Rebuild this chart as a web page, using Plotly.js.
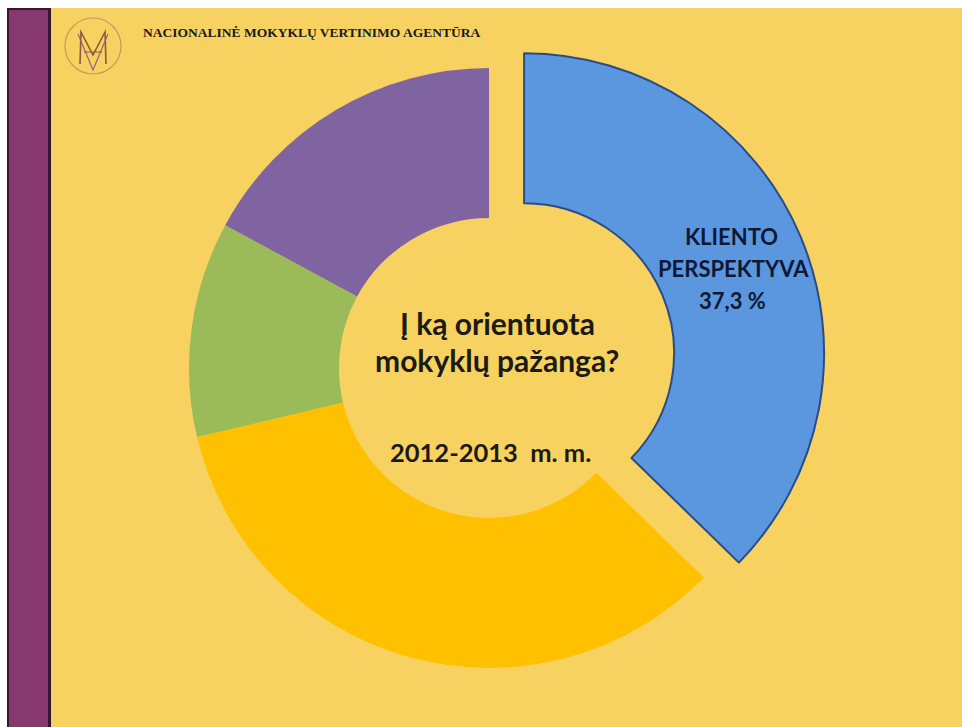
<!DOCTYPE html>
<html>
<head>
<meta charset="utf-8">
<script src="https://cdn.plot.ly/plotly-3.0.1.min.js"></script>
<style>
  html, body { margin: 0; padding: 0; background: #ffffff; }
  #chart { width: 962px; height: 727px; }
</style>
</head>
<body>
<div id="chart"></div>
<script>
// ---- data ----
const categories = ["Kliento perspektyva", "Kita sritis A", "Kita sritis B", "Kita sritis C"];
const values = [37.3, 34.0, 11.6, 17.1];
const sliceColors = ["#5B97DF", "#FFC000", "#9BBB59", "#8064A2"];
const pulls = [0.127, 0, 0, 0];
const header = "NACIONALINĖ MOKYKLŲ VERTINIMO AGENTŪRA";
const centerTitle = ["Į ką orientuota", "mokyklų pažanga?"];
const schoolYear = "2012-2013  m. m.";

// ---- helpers (pixel -> paper) ----
const W = 962, H = 727;
const px = x => x / W;
const py = y => 1 - y / H;

const bg = "#F7D261";
const darkText = "#1C1A14";
const labelNavy = "#0E1936";

// pie geometry: center (489,368), outer radius 300 incl. pull space
const cx = 489, cy = 368, R = 300;
const half = R * (1 + Math.max(...pulls));

const trace = {
  type: "pie",
  labels: categories,
  values: values,
  hole: 0.5,
  sort: false,
  direction: "clockwise",
  rotation: 0,
  pull: pulls,
  textinfo: "none",
  hoverinfo: "label+percent",
  showlegend: false,
  marker: {
    colors: sliceColors,
    line: { color: ["#2A4C86", bg, bg, bg], width: [2, 0, 0, 0] }
  },
  domain: {
    x: [px(cx - half), px(cx + half)],
    y: [py(cy + half), py(cy - half)]
  }
};

// label for the pulled slice, built from data
const firstWords = categories[0].toUpperCase().split(" ");
const pctText = values[0].toFixed(1).replace(".", ",") + " %";

const annotations = [
  { text: "<b>" + header + "</b>", x: px(311), y: py(32), font: { family: "Liberation Serif, Times New Roman, serif", size: 13.5, color: "#1a1a1a" } },
  { text: "<b>" + centerTitle[0] + "</b>", x: px(497), y: py(323), font: { family: "Lato, sans-serif", size: 30, color: darkText } },
  { text: "<b>" + centerTitle[1] + "</b>", x: px(497), y: py(360), font: { family: "Lato, sans-serif", size: 30, color: darkText } },
  { text: "<b>" + schoolYear + "</b>", x: px(490), y: py(452), font: { family: "Lato, sans-serif", size: 25.5, color: darkText } },
  { text: "<b>" + firstWords[0] + "</b>", x: px(731), y: py(236), font: { family: "Lato, sans-serif", size: 22, color: labelNavy } },
  { text: "<b>" + firstWords[1] + "</b>", x: px(733), y: py(268), font: { family: "Lato, sans-serif", size: 22, color: labelNavy } },
  { text: "<b>" + pctText + "</b>", x: px(732), y: py(300), font: { family: "Lato, sans-serif", size: 22, color: labelNavy } }
].map(a => Object.assign({ xref: "paper", yref: "paper", xanchor: "center", yanchor: "middle", showarrow: false }, a));

const shapes = [
  // white top strip
  { type: "rect", x0: 0, x1: 1, y0: py(8), y1: 1, fillcolor: "#ffffff", line: { width: 0 } },
  // white left strip
  { type: "rect", x0: 0, x1: px(7), y0: 0, y1: 1, fillcolor: "#ffffff", line: { width: 0 } },
  // purple side bar
  { type: "rect", x0: px(7), x1: px(51), y0: 0, y1: py(8), fillcolor: "#3A1430", line: { width: 0 } },
  { type: "rect", x0: px(9), x1: px(48), y0: 0, y1: py(10), fillcolor: "#87386C", line: { width: 0 } },
  // logo circle
  { type: "circle", x0: px(65), x1: px(121), y0: py(74), y1: py(18), line: { color: "#C49A5E", width: 1.2 } },
  // logo strokes (stylised M / A)
  { type: "path", path: `M ${px(80)} ${py(64)} L ${px(81)} ${py(32)} L ${px(93)} ${py(55)} L ${px(105)} ${py(32)} L ${px(106)} ${py(64)}`, line: { color: "#8C5A3C", width: 1.6 } },
  { type: "path", path: `M ${px(78)} ${py(34)} L ${px(93)} ${py(70)} L ${px(108)} ${py(34)}`, line: { color: "#9A5C86", width: 1.2 } },
  { type: "path", path: `M ${px(84)} ${py(52)} L ${px(102)} ${py(52)}`, line: { color: "#8C5A3C", width: 1 } }
];

const layout = {
  width: W,
  height: H,
  margin: { l: 0, r: 0, t: 0, b: 0 },
  paper_bgcolor: bg,
  plot_bgcolor: bg,
  showlegend: false,
  shapes: shapes,
  annotations: annotations
};

Plotly.newPlot("chart", [trace], layout, { staticPlot: true, displayModeBar: false });
</script>
</body>
</html>
